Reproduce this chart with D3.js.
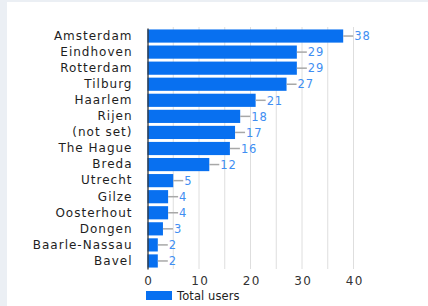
<!DOCTYPE html>
<html>
<head>
<meta charset="utf-8">
<script src="https://cdn.jsdelivr.net/npm/d3@7"></script>
<style>
  body { margin: 0; background: #ebeff4; }
  svg { display: block; font-family: "DejaVu Sans", sans-serif; }
</style>
</head>
<body>
<svg id="chart"></svg>
<script>
const cities = ["Amsterdam", "Eindhoven", "Rotterdam", "Tilburg", "Haarlem", "Rijen",
  "(not set)", "The Hague", "Breda", "Utrecht", "Gilze", "Oosterhout", "Dongen",
  "Baarle-Nassau", "Bavel"];
const totalUsers = [38, 29, 29, 27, 21, 18, 17, 16, 12, 5, 4, 4, 3, 2, 2];
const xTicks = [0, 10, 20, 30, 40];
const seriesName = "Total users";

const data = cities.map((c, i) => ({ city: c, value: totalUsers[i] }));

const W = 428, H = 306;
const blue = "#0870f0";

const svg = d3.select("#chart").attr("width", W).attr("height", H);

// white card
svg.append("rect")
  .attr("x", 7).attr("y", 2)
  .attr("width", W - 7).attr("height", H - 2)
  .attr("fill", "#fff");

const x = d3.scaleLinear().domain([0, 40]).range([147.5, 353.5]);
const y = d3.scaleBand().domain(cities).range([28, 269])
  .paddingInner(0.18).paddingOuter(0.09);

// grid lines every 5
svg.append("g")
  .selectAll("line")
  .data(d3.range(5, 41, 5))
  .join("line")
  .attr("x1", d => x(d)).attr("x2", d => x(d))
  .attr("y1", 27).attr("y2", 269)
  .attr("stroke", "#dedede")
  .attr("stroke-width", 1);

// bars
svg.append("g")
  .selectAll("rect")
  .data(data)
  .join("rect")
  .attr("x", x(0))
  .attr("y", d => y(d.city))
  .attr("width", d => x(d.value) - x(0))
  .attr("height", y.bandwidth())
  .attr("fill", blue);

// leader lines + value labels
svg.append("g")
  .selectAll("line")
  .data(data)
  .join("line")
  .attr("x1", d => x(d.value)).attr("x2", d => x(d.value) + 10)
  .attr("y1", d => y(d.city) + y.bandwidth() / 2)
  .attr("y2", d => y(d.city) + y.bandwidth() / 2)
  .attr("stroke", "#a8a8a8")
  .attr("stroke-width", 1.5);

svg.append("g")
  .selectAll("text")
  .data(data)
  .join("text")
  .attr("x", d => x(d.value) + 11)
  .attr("y", d => y(d.city) + y.bandwidth() / 2 + 4.2)
  .attr("fill", "#3f8ef2")
  .attr("font-size", 11.5)
  .attr("letter-spacing", 0.9)
  .text(d => d.value);

// y axis
const yAxis = svg.append("g")
  .attr("transform", `translate(${x(0)},0)`)
  .call(d3.axisLeft(y).tickSize(0).tickSizeOuter(0).tickPadding(15));
yAxis.select(".domain").attr("stroke", "#333").attr("stroke-width", 1.3);
yAxis.selectAll("text")
  .attr("font-family", "DejaVu Sans")
  .attr("font-size", 12)
  .attr("letter-spacing", 1)
  .attr("fill", "#1e1e1e");

// x axis
const xAxis = svg.append("g")
  .attr("transform", "translate(0,269)")
  .call(d3.axisBottom(x).tickValues(xTicks).tickSize(0).tickPadding(7.5));
xAxis.select(".domain").remove();
xAxis.selectAll("text")
  .attr("font-family", "DejaVu Sans")
  .attr("font-size", 12)
  .attr("letter-spacing", 1.4)
  .attr("dx", 0.7)
  .attr("fill", "#333");

// legend
svg.append("rect")
  .attr("x", 146).attr("y", 291)
  .attr("width", 26).attr("height", 9)
  .attr("fill", blue);
svg.append("text")
  .attr("x", 177).attr("y", 299.5)
  .attr("font-size", 11.5)
  .attr("letter-spacing", 0.1)
  .attr("fill", "#222")
  .text(seriesName);
</script>
</body>
</html>
